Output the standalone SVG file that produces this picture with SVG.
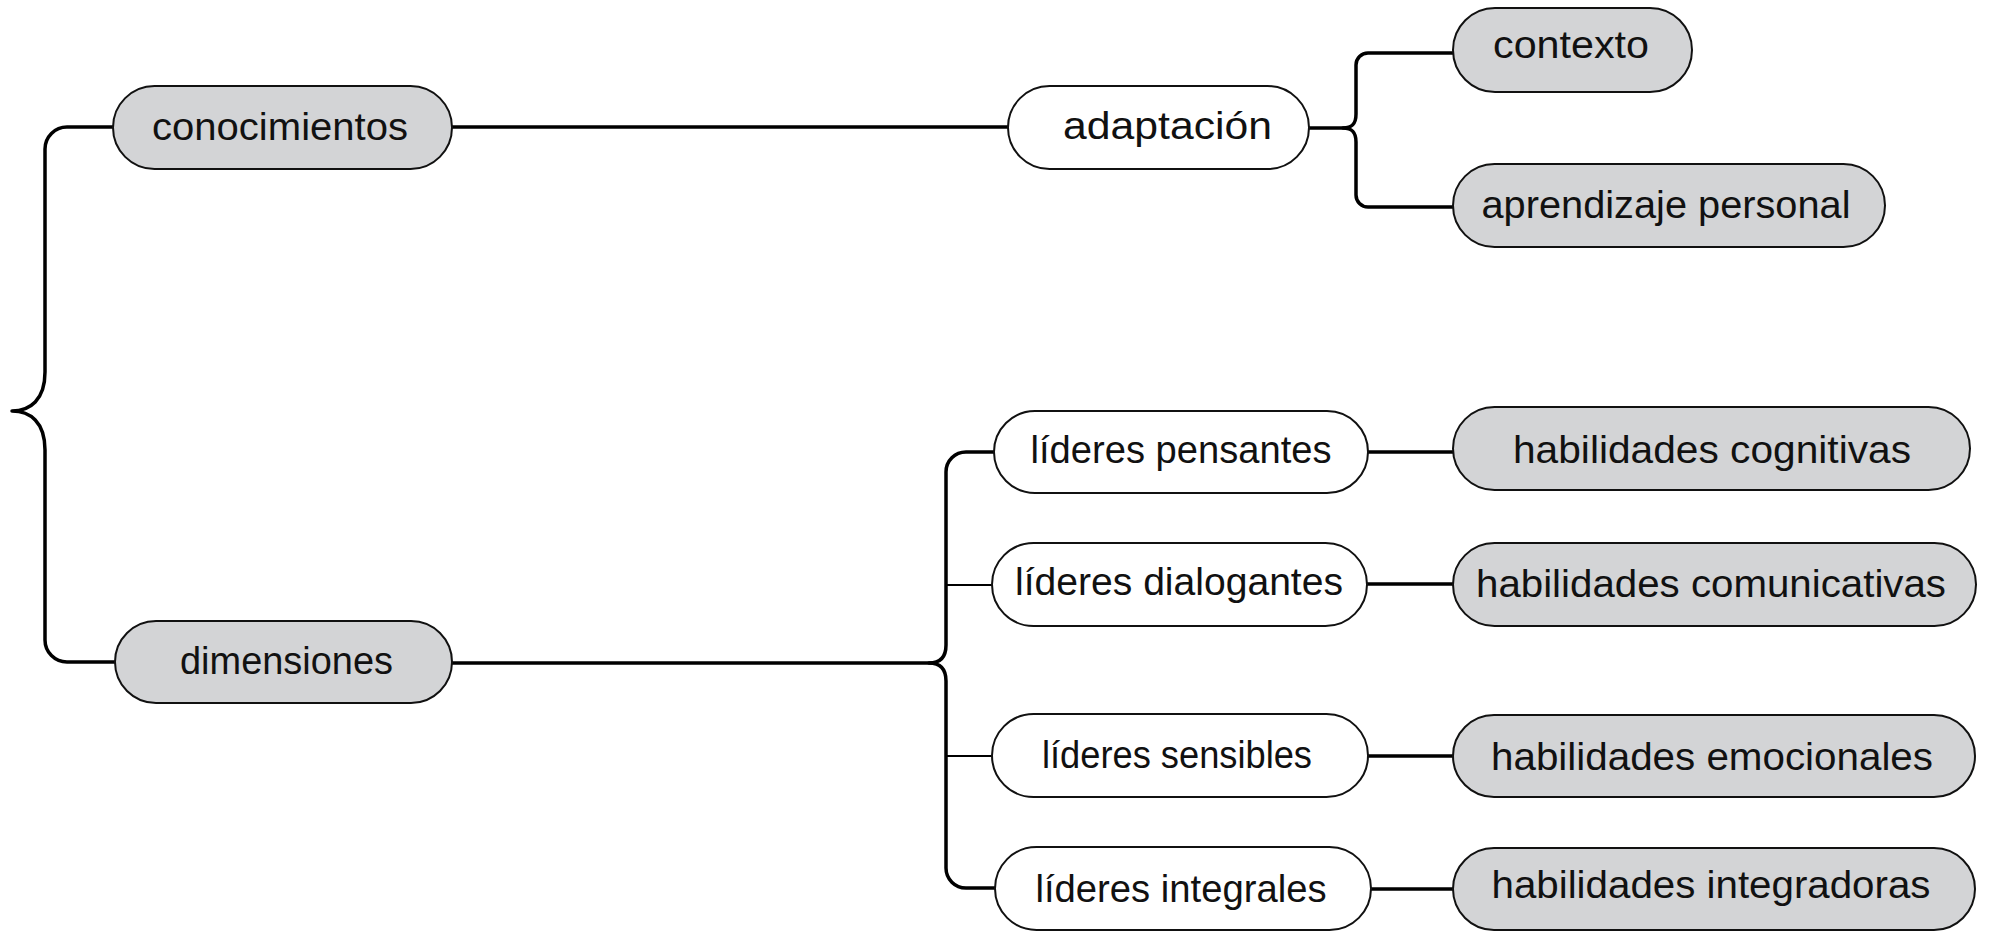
<svg xmlns="http://www.w3.org/2000/svg" width="1990" height="936" viewBox="0 0 1990 936">
<style>
.bg{fill:#ffffff}
.g rect{fill:#d3d4d6;stroke:#111;stroke-width:2}
.w rect{fill:#ffffff;stroke:#111;stroke-width:2}
text{font-family:"Liberation Sans","DejaVu Sans",sans-serif;font-size:38px;fill:#111;text-anchor:middle}
.c{fill:none;stroke:#000;stroke-width:3.5;stroke-linecap:round;stroke-linejoin:round}
.t{fill:none;stroke:#000;stroke-width:2}
</style>
<rect class="bg" x="0" y="0" width="1990" height="936"/>
<g id="connectors">
<path class="c" d="M113 127 H67 A22 22 0 0 0 45 149 V372 C45 400 30 411 12 411 C30 411 45 422 45 450 V640 A22 22 0 0 0 67 662 H115"/>
<path class="c" d="M452 127 H1008"/>
<path class="c" d="M1309 128 H1343 C1352 128 1356 124 1356 114 V65 A12 12 0 0 1 1368 53 H1453"/>
<path class="c" d="M1343 128 C1352 128 1356 132 1356 142 V195 A12 12 0 0 0 1368 207 H1453"/>
<path class="c" d="M452 663 H929 C940 663 946 657 946 645 V472 A20 20 0 0 1 966 452 H994"/>
<path class="c" d="M929 663 C940 663 946 669 946 681 V868 A20 20 0 0 0 966 888 H995"/>
<path class="t" d="M946 585 H992"/>
<path class="t" d="M946 756 H992"/>
<path class="c" d="M1368 452 H1453"/>
<path class="c" d="M1367 584 H1453"/>
<path class="c" d="M1368 756 H1453"/>
<path class="c" d="M1371 889 H1453"/>
</g>
<g id="n-conocimientos" class="g"><rect x="113" y="86" width="339" height="83" rx="41.5"/><text x="280" y="140" textLength="256" lengthAdjust="spacingAndGlyphs">conocimientos</text></g>
<g id="n-dimensiones" class="g"><rect x="115" y="621" width="337" height="82" rx="41"/><text x="286.5" y="674" textLength="213" lengthAdjust="spacingAndGlyphs">dimensiones</text></g>
<g id="n-adaptacion" class="w"><rect x="1008" y="86" width="301" height="83" rx="41.5"/><text x="1167.5" y="139" textLength="209" lengthAdjust="spacingAndGlyphs">adaptación</text></g>
<g id="n-contexto" class="g"><rect x="1453" y="8" width="239" height="84" rx="42"/><text x="1571" y="58" textLength="156" lengthAdjust="spacingAndGlyphs">contexto</text></g>
<g id="n-aprendizaje" class="g"><rect x="1453" y="164" width="432" height="83" rx="41.5"/><text x="1666" y="218" textLength="369" lengthAdjust="spacingAndGlyphs">aprendizaje personal</text></g>
<g id="n-pensantes" class="w"><rect x="994" y="411" width="374" height="82" rx="41"/><text x="1181" y="463" textLength="301" lengthAdjust="spacingAndGlyphs">líderes pensantes</text></g>
<g id="n-dialogantes" class="w"><rect x="992" y="543" width="375" height="83" rx="41.5"/><text x="1179" y="595" textLength="328" lengthAdjust="spacingAndGlyphs">líderes dialogantes</text></g>
<g id="n-sensibles" class="w"><rect x="992" y="714" width="376" height="83" rx="41.5"/><text x="1177" y="768" textLength="270" lengthAdjust="spacingAndGlyphs">líderes sensibles</text></g>
<g id="n-integrales" class="w"><rect x="995" y="847" width="376" height="83" rx="41.5"/><text x="1181" y="902" textLength="291" lengthAdjust="spacingAndGlyphs">líderes integrales</text></g>
<g id="n-cognitivas" class="g"><rect x="1453" y="407" width="517" height="83" rx="41.5"/><text x="1712" y="463" textLength="398" lengthAdjust="spacingAndGlyphs">habilidades cognitivas</text></g>
<g id="n-comunicativas" class="g"><rect x="1453" y="543" width="523" height="83" rx="41.5"/><text x="1711" y="597" textLength="470" lengthAdjust="spacingAndGlyphs">habilidades comunicativas</text></g>
<g id="n-emocionales" class="g"><rect x="1453" y="715" width="522" height="82" rx="41"/><text x="1712" y="770" textLength="442" lengthAdjust="spacingAndGlyphs">habilidades emocionales</text></g>
<g id="n-integradoras" class="g"><rect x="1453" y="848" width="522" height="82" rx="41"/><text x="1711" y="898" textLength="439" lengthAdjust="spacingAndGlyphs">habilidades integradoras</text></g>
</svg>
